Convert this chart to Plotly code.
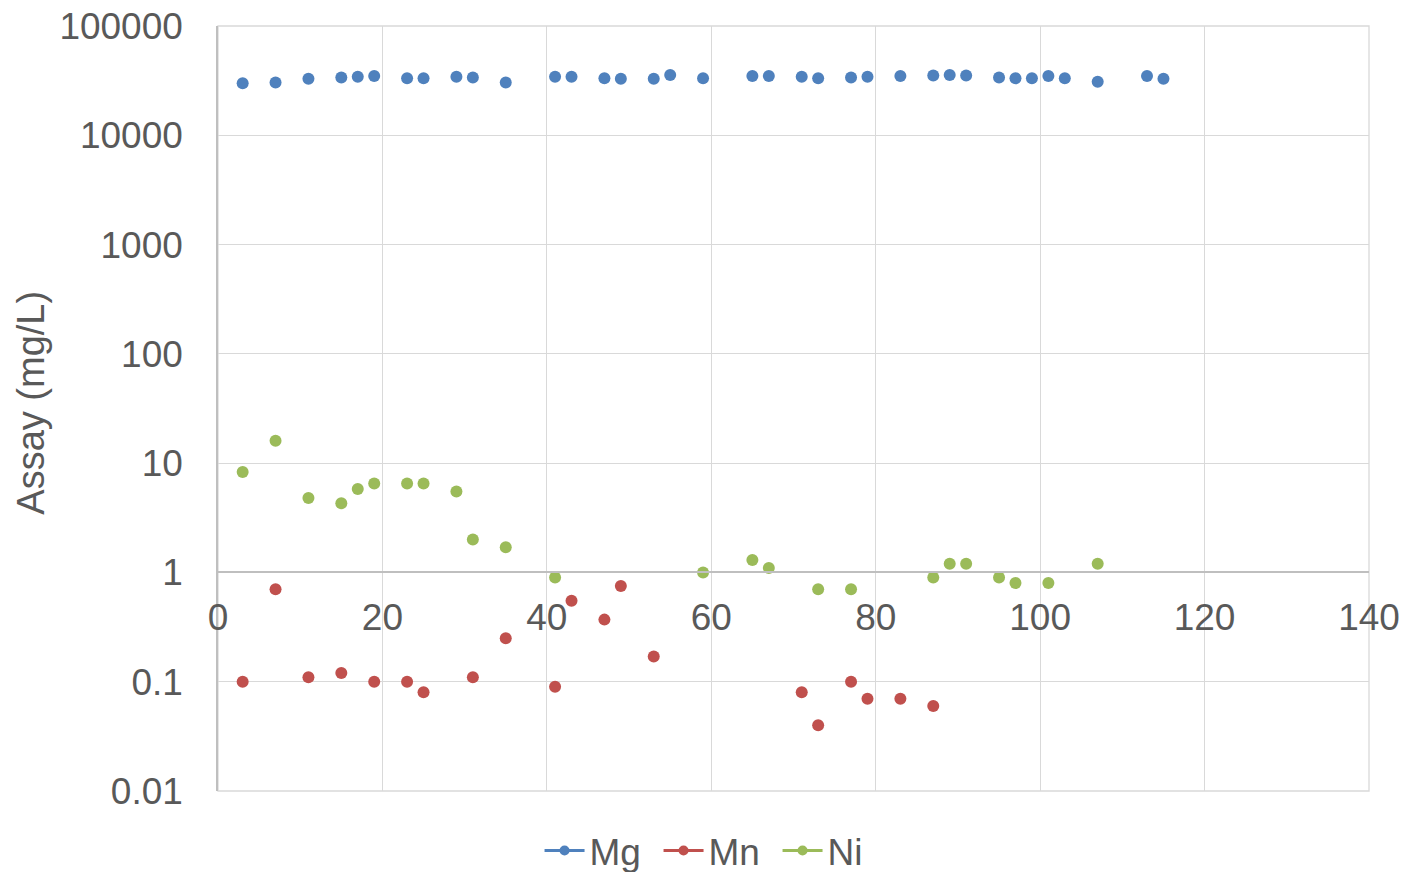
import plotly.graph_objects as go

# Sample positions (x) and assays in mg/L for each element
mg_x = [3, 7, 11, 15, 17, 19, 23, 25, 29, 31, 35, 41, 43, 47, 49, 53, 55, 59,
        65, 67, 71, 73, 77, 79, 83, 87, 89, 91, 95, 97, 99, 101, 103, 107, 113, 115]
mg_y = [30000, 30400, 32900, 33800, 34300, 34800, 33300, 33300, 34300, 33800, 30400,
        34300, 34300, 33300, 32900, 32900, 35700, 33300,
        34800, 34800, 34300, 33300, 33800, 34300, 34800, 35300, 35700, 35300,
        33800, 33300, 33300, 34800, 33300, 30900, 34800, 32900]

mn_x = [3, 7, 11, 15, 19, 23, 25, 31, 35, 41, 43, 47, 49, 53, 71, 73, 77, 79, 83, 87]
mn_y = [0.10, 0.70, 0.11, 0.12, 0.10, 0.10, 0.08, 0.11, 0.25, 0.09, 0.55, 0.37,
        0.75, 0.17, 0.08, 0.04, 0.10, 0.07, 0.07, 0.06]

ni_x = [3, 7, 11, 15, 17, 19, 23, 25, 29, 31, 35, 41, 59, 65, 67, 73, 77,
        87, 89, 91, 95, 97, 101, 107]
ni_y = [8.3, 16.0, 4.8, 4.3, 5.8, 6.5, 6.5, 6.5, 5.5, 2.0, 1.7, 0.9, 1.0, 1.3, 1.1,
        0.7, 0.7, 0.9, 1.2, 1.2, 0.9, 0.8, 0.8, 1.2]

y_ticks = [0.01, 0.1, 1, 10, 100, 1000, 10000, 100000]
y_labels = ["0.01", "0.1", "1", "10", "100", "1000", "10000", "100000"]
x_ticks = [0, 20, 40, 60, 80, 100, 120, 140]

series = [
    ("Mg", mg_x, mg_y, "#4f81bd"),
    ("Mn", mn_x, mn_y, "#c0504d"),
    ("Ni", ni_x, ni_y, "#9bbb59"),
]

FONT = "Liberation Sans, Arial, sans-serif"
TEXT = "#595959"
GRID = "#d9d9d9"
AXIS = "#bfbfbf"
FS = 37

fig = go.Figure()
for name, xs, ys, color in series:
    fig.add_trace(go.Scatter(
        x=xs, y=ys, mode="markers", name=name, showlegend=False,
        marker=dict(color=color, size=12, line=dict(width=0)),
    ))
# Legend entries drawn as line-with-marker keys
for name, xs, ys, color in series:
    fig.add_trace(go.Scatter(
        x=[None], y=[None], mode="lines+markers", name=name,
        line=dict(color=color, width=3),
        marker=dict(color=color, size=10),
    ))

# Outer frame of the plot area (top, right and bottom edges)
fig.add_shape(type="rect", xref="paper", yref="paper", x0=0, x1=1, y0=0, y1=1,
              line=dict(color=GRID, width=1.3), layer="below")

fig.add_annotation(
    text="Assay (mg/L)", xref="paper", yref="paper", x=-0.162, y=0.507,
    textangle=-90, showarrow=False, xanchor="center", yanchor="middle",
    font=dict(size=38, color=TEXT),
)

fig.update_layout(
    width=1406, height=872,
    margin=dict(l=218, r=37, t=26, b=81),
    paper_bgcolor="white", plot_bgcolor="white",
    font=dict(family=FONT, color=TEXT, size=FS),
    showlegend=True,
    legend=dict(
        orientation="h", x=0.5107, xanchor="center", xref="container",
        y=1 - 851 / 872, yanchor="middle", yref="container",
        font=dict(size=FS, color=TEXT),
        itemwidth=40, entrywidth=64, entrywidthmode="pixels",
    ),
    xaxis=dict(
        range=[0, 140], tickvals=x_ticks, automargin=False,
        anchor="free", position=2 / 7,
        showgrid=True, gridcolor=GRID, gridwidth=1.3,
        showline=True, linecolor=AXIS, linewidth=1.5,
        zeroline=False, ticks="", ticklabelstandoff=12,
        tickfont=dict(size=FS, color=TEXT),
    ),
    yaxis=dict(
        type="log", range=[-2, 5], automargin=False,
        tickvals=y_ticks, ticktext=y_labels,
        showgrid=True, gridcolor=GRID, gridwidth=1.3,
        showline=True, linecolor=AXIS, linewidth=1.5,
        zeroline=False, ticks="", ticklabelstandoff=26,
        tickfont=dict(size=FS, color=TEXT),
    ),
)

fig.write_html("out.html")
